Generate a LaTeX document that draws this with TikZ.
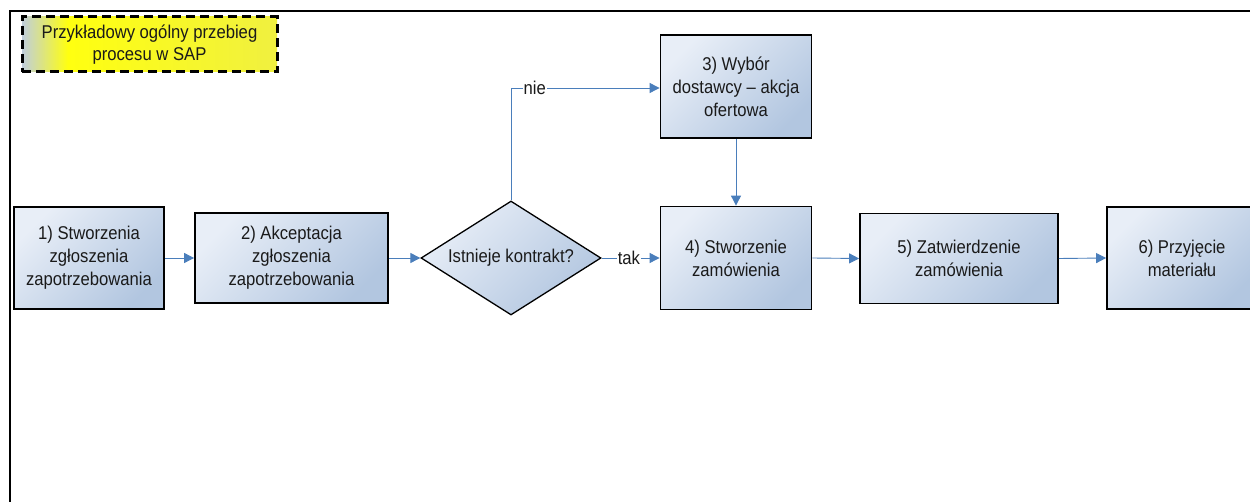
\documentclass[tikz,border=0pt]{standalone}
\usepackage{fontspec}
\setmainfont{Liberation Sans}[FakeStretch=0.9]
\usetikzlibrary{arrows.meta,shapes.geometric}
\definecolor{boxlight}{HTML}{E8EEF7}
\definecolor{boxdark}{HTML}{B2C6E0}
\definecolor{conn}{HTML}{4A7EBB}
\definecolor{txt}{HTML}{1A1A1A}
\definecolor{tblue}{HTML}{C0CEDC}
\definecolor{tyel}{HTML}{FFFF10}
\definecolor{tyel2}{HTML}{F0F040}
\pgfdeclarehorizontalshading{titleshade}{100bp}{color(0bp)=(tblue); color(25bp)=(tblue); color(34bp)=(tyel); color(75bp)=(tyel2); color(100bp)=(tyel2)}
\tikzset{
  procbox/.style={draw=black, line width=1.8pt, rectangle, inner sep=2pt,
    top color=boxlight, bottom color=boxdark, shading angle=45,
    align=center, text=txt, font=\fontsize{18.5}{23}\selectfont},
  decbox/.style={draw=black, line width=1.3pt, diamond, aspect=1.58, inner sep=0pt,
    top color=boxlight, bottom color=boxdark, shading angle=45,
    align=center, text=txt, font=\fontsize{18.5}{23}\selectfont},
  flow/.style={draw=conn, line width=0.9pt, -{Triangle[length=10pt,width=10pt]}},
  flowlabel/.style={fill=white, inner sep=1pt, text=txt, font=\fontsize{18.5}{20}\selectfont},
  titlebox/.style={draw=black, line width=3pt, dash pattern=on 9pt off 5pt,
    shading=titleshade, shading angle=0, inner sep=0pt,
    align=center, text=txt, font=\fontsize{18.5}{22}\selectfont},
  frameline/.style={draw=black, line width=2.5pt}
}
\begin{document}
\begin{tikzpicture}[x=1pt,y=-1pt]
\useasboundingbox (0,0) rectangle (1250,502);
\fill[white] (0,0) rectangle (1250,502);
% frame
\coordinate (fbl) at (10,503);
\coordinate (ftl) at (10,11);
\coordinate (ftr) at (1251,11);
\draw[frameline] (fbl) -- (ftl) -- (ftr);
% title
\node[titlebox, minimum width=255pt, minimum height=55pt] (title) at (149.5,44.5)
  {Przykładowy ogólny przebieg\\procesu w SAP};
% process boxes
\node[procbox, minimum width=150pt, minimum height=102pt] (b1) at (89,258)
  {1) Stworzenia\\zgłoszenia\\zapotrzebowania};
\node[procbox, minimum width=193pt, minimum height=90pt] (b2) at (291.5,258)
  {2) Akceptacja\\zgłoszenia\\zapotrzebowania};
\node[decbox, minimum width=180pt, minimum height=114pt] (d) at (511,258)
  {Istnieje kontrakt?};
\node[procbox, minimum width=151pt, minimum height=103pt] (b3) at (736,86.5)
  {3) Wybór\\dostawcy -- akcja\\ofertowa};
\node[procbox, minimum width=151pt, minimum height=103pt] (b4) at (736,258)
  {4) Stworzenie\\zamówienia};
\node[procbox, minimum width=198pt, minimum height=90pt] (b5) at (959,258.5)
  {5) Zatwierdzenie\\zamówienia};
\node[procbox, minimum width=150pt, minimum height=102pt] (b6) at (1182,258)
  {6) Przyjęcie\\materiału};
% connectors
\draw[flow] (b1.east) -- (b2.west);
\draw[flow] (b2.east) -- (d.west);
\draw[flow] (d.east) -- node[flowlabel, pos=0.47] {tak} (b4.west);
\coordinate (nieturn) at (511,88);
\draw[flow] (d.north) -- (nieturn) -- node[flowlabel, pos=0.16] {nie} (b3.west |- nieturn);
\draw[flow] (b3.south) -- (b4.north);
\draw[flow] (b4.east) -- (b5.west);
\draw[flow] (b5.east) -- (b6.west);
\end{tikzpicture}
\end{document}
